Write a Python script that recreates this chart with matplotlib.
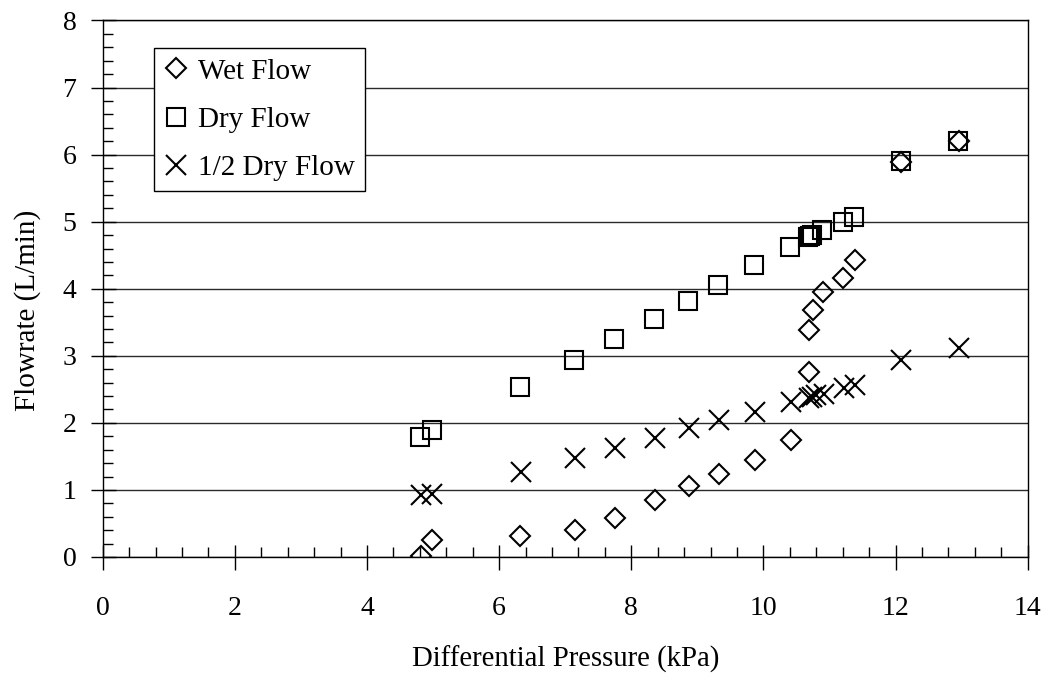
import matplotlib
matplotlib.use("Agg")
import matplotlib.pyplot as plt
from matplotlib.ticker import MultipleLocator

plt.rcParams['font.family'] = ['Liberation Serif', 'DejaVu Serif']

wet_x = [4.82, 4.99, 6.32, 7.15, 7.75, 8.36, 8.87, 9.33, 9.87, 10.41, 10.69, 10.69, 10.75, 10.90, 11.21, 11.39, 12.08, 12.96]
wet_y = [0.01, 0.25, 0.31, 0.40, 0.58, 0.85, 1.06, 1.24, 1.45, 1.75, 2.76, 3.39, 3.69, 3.95, 4.16, 4.43, 5.89, 6.20]

dry_x = [4.80, 4.98, 6.31, 7.13, 7.74, 8.34, 8.86, 9.31, 9.86, 10.40, 10.68, 10.70, 10.73, 10.88, 11.20, 11.37, 12.08, 12.95]
dry_y = [1.79, 1.89, 2.54, 2.93, 3.25, 3.55, 3.82, 4.06, 4.36, 4.62, 4.77, 4.78, 4.80, 4.87, 4.99, 5.07, 5.91, 6.21]

half_x = [4.82, 4.99, 6.33, 7.15, 7.75, 8.36, 8.87, 9.33, 9.87, 10.41, 10.69, 10.73, 10.79, 10.92, 11.22, 11.39, 12.08, 12.96]
half_y = [0.92, 0.94, 1.27, 1.47, 1.62, 1.77, 1.93, 2.04, 2.16, 2.31, 2.37, 2.39, 2.41, 2.43, 2.52, 2.56, 2.94, 3.12]

labels = ["Wet Flow", "Dry Flow", "1/2 Dry Flow"]
x_label = "Differential Pressure (kPa)"
y_label = "Flowrate (L/min)"

fig = plt.figure(figsize=(10.5, 6.83), dpi=100)
ax = fig.add_axes([0.0978, 0.1845, 0.881, 0.7855])

mew = 1.5
ax.plot(wet_x, wet_y, linestyle='none', marker='D', ms=10, mfc='none', mec='black', mew=mew, label=labels[0], zorder=3)
ax.plot(dry_x, dry_y, linestyle='none', marker='s', ms=12.8, mfc='none', mec='black', mew=mew, label=labels[1], zorder=3)
ax.plot(half_x, half_y, linestyle='none', marker='x', ms=14.5, mfc='none', mec='black', mew=mew, label=labels[2], zorder=3)

ax.set_xlim(0, 14)
ax.set_ylim(0, 8)
ax.xaxis.set_major_locator(MultipleLocator(2))
ax.xaxis.set_minor_locator(MultipleLocator(0.4))
ax.yaxis.set_major_locator(MultipleLocator(1))
ax.yaxis.set_minor_locator(MultipleLocator(0.2))

ax.yaxis.grid(True, which='major', color='#2a2a2a', linewidth=1.0)
ax.set_axisbelow(True)

for s in ax.spines.values():
    s.set_color('black')
    s.set_linewidth(1.0)

ax.tick_params(axis='x', which='major', direction='inout', length=18, width=1, labelsize=20, pad=19)
ax.tick_params(axis='x', which='minor', direction='in', length=7, width=1)
ax.tick_params(axis='y', which='major', direction='inout', length=18, width=1, labelsize=20, pad=10)
ax.tick_params(axis='y', which='minor', direction='in', length=7, width=1)

ax.set_xlabel(x_label, fontsize=20.7, labelpad=18)
ax.set_ylabel(y_label, fontsize=21)
ax.yaxis.set_label_coords(-0.067, 0.46)

leg = ax.legend(loc='upper left', bbox_to_anchor=(154/1050, 1-48/683), bbox_transform=fig.transFigure,
                fontsize=21, frameon=True, fancybox=False, framealpha=1, edgecolor='black',
                handlelength=0.8, handletextpad=0.35, borderpad=0.35, labelspacing=0.75, borderaxespad=0)
leg.get_frame().set_linewidth(1.0)

fig.savefig("out.png", dpi=100)
